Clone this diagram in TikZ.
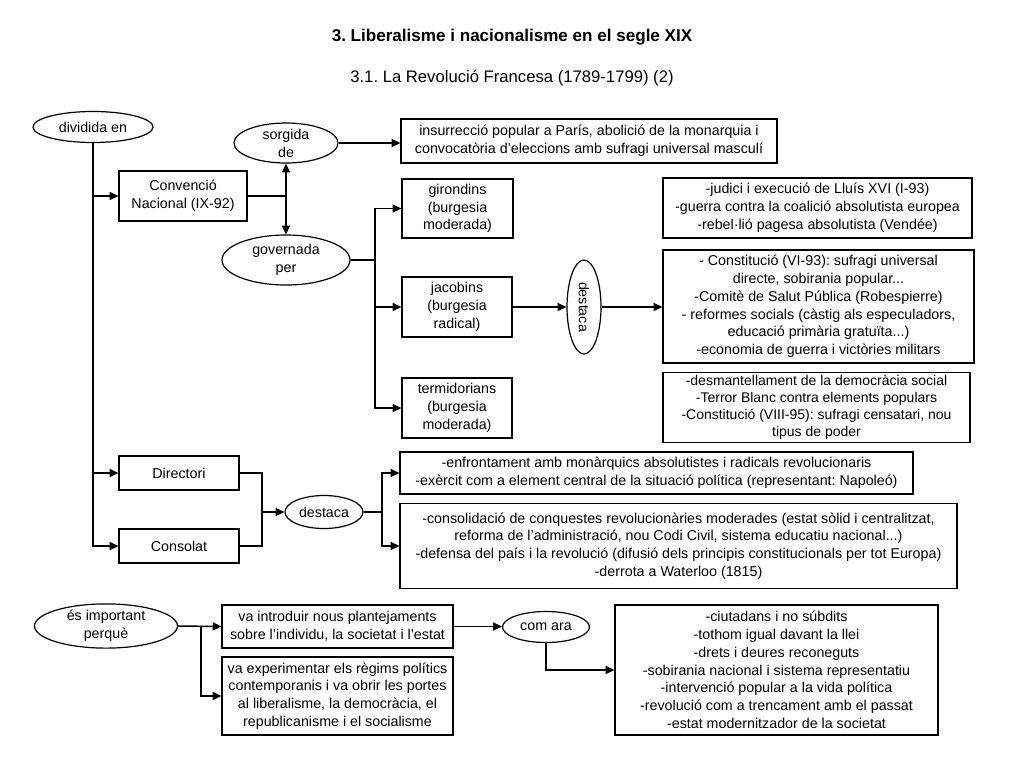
\documentclass[tikz,border=0pt]{standalone}
\usepackage{fontspec}
\setmainfont{Liberation Sans}
\frenchspacing
\usetikzlibrary{shapes.geometric,arrows.meta}
\tikzset{
  wh/.style 2 args={minimum width=#1*0.75pt, minimum height=#2*0.75pt},
  txt/.style={font=\fontsize{10.7}{13.35}\selectfont, align=center, inner sep=0pt},
  tighttxt/.style={font=\fontsize{10.5}{12.8}\selectfont},
  bx/.style={txt, draw, rectangle, line width=0.9pt},
  el/.style={txt, draw, ellipse, line width=0.9pt},
  ln/.style={line width=1.1pt},
  arr/.style={ln, -{Triangle[length=6.5pt,width=6pt]}},
}
\begin{document}
\begin{tikzpicture}[x=0.75pt,y=-0.75pt]
\fill[white] (0,0) rectangle (1024,768);
\useasboundingbox (0,0) rectangle (1024,768);
% titles
\node[font=\fontsize{12.8}{15}\selectfont\bfseries] (t1) at (512,37) {3. Liberalisme i nacionalisme en el segle XIX};
\node[font=\fontsize{12.5}{15}\selectfont] (t2) at (512,78) {3.1. La Revolució Francesa (1789-1799) (2)};
% upper part
\node[el, wh={120}{31}] (div) at (93,127) {dividida en};
\node[bx, wh={128}{50}] (conv) at (183,196) {Convenció\\Nacional (IX-92)};
\node[el, wh={104}{37}] (sorg) at (286,143) {sorgida\\de};
\node[el, wh={128}{50}] (gov) at (286,260) {governada\\per};
\node[bx, wh={376}{44}] (insur) at (589,141) {insurrecció popular a París, abolició de la monarquia i\\convocatòria d'eleccions amb sufragi universal masculí};
\node[bx, wh={111}{59}] (gir) at (457.5,208.5) {girondins\\(burgesia\\moderada)};
\node[bx, wh={110}{60}] (jac) at (457,307) {jacobins\\(burgesia\\radical)};
\node[bx, wh={110}{60}] (ter) at (457,408) {termidorians\\(burgesia\\moderada)};
\node[el, wh={34}{94}] (desv) at (584,307) {\rotatebox{-90}{destaca}};
\node[bx, wh={309}{60}] (jud) at (817.5,208) {-judici i execució de Lluís XVI (I-93)\\-guerra contra la coalició absolutista europea\\-rebel·lió pagesa absolutista (Vendée)};
\node[bx, wh={311}{113}] (const) at (818.5,306.5) {- Constitució (VI-93): sufragi universal\\directe, sobirania popular...\\-Comitè de Salut Pública (Robespierre)\\- reformes socials (càstig als especuladors,\\educació primària gratuïta...)\\-economia de guerra i victòries militars};
\node[bx, tighttxt, wh={307}{70}] (desm) at (816.5,407.5) {-desmantellament de la democràcia social\\-Terror Blanc contra elements populars\\-Constitució (VIII-95): sufragi censatari, nou\\tipus de poder};
\node[bx, wh={120}{34}] (dir) at (179,473) {Directori};
\node[bx, wh={120}{34}] (cons) at (179,546) {Consolat};
\node[el, wh={78}{33}] (desh) at (324,512) {destaca};
\node[bx, wh={513}{42}] (enfr) at (656.5,473) {-enfrontament amb monàrquics absolutistes i radicals revolucionaris\\-exèrcit com a element central de la situació política (representant: Napoleó)};
\node[bx, wh={557}{85}] (consol) at (678.5,546) {-consolidació de conquestes revolucionàries moderades (estat sòlid i centralitzat,\\reforma de l'administració, nou Codi Civil, sistema educatiu nacional...)\\-defensa del país i la revolució (difusió dels principis constitucionals per tot Europa)\\-derrota a Waterloo (1815)};
% lower part
\node[el, wh={143}{32}] (imp) at (106,626) {és important\\perquè};
\node[bx, wh={231}{43}] (intro) at (337.5,626.5) {va introduir nous plantejaments\\sobre l'individu, la societat i l'estat};
\node[bx, wh={231}{78}] (exper) at (337.5,696) {va experimentar els règims polítics\\contemporanis i va obrir les portes\\al liberalisme, la democràcia, el\\republicanisme i el socialisme};
\node[el, wh={87}{31}] (com) at (546,627) {com ara};
\node[bx, wh={323}{130}] (list) at (776.5,670) {-ciutadans i no súbdits\\-tothom igual davant la llei\\-drets i deures reconeguts\\-sobirania nacional i sistema representatiu\\-intervenció popular a la vida política\\-revolució com a trencament amb el passat\\-estat modernitzador de la societat};
% junctions
\coordinate (jc) at (286,196);
\coordinate (jg) at (375,260);
\coordinate (jd) at (262,512);
\coordinate (jn) at (382,512);
\coordinate (ji) at (201,626);
% connectors
\draw[arr] (div.south) |- (conv.west);
\draw[arr] (div.south) |- (dir.west);
\draw[arr] (div.south) |- (cons.west);
\draw[ln] (conv.east) -- (jc);
\draw[arr] (jc) -- (sorg.south);
\draw[arr] (jc) -- (gov.north);
\draw[arr] (sorg.east) -- (sorg.east -| insur.west);
\draw[ln] (gov.east) -- (jg);
\draw[arr] (jg) |- (gir.west);
\draw[arr] (jg) |- (jac.west);
\draw[arr] (jg) |- (ter.west);
\draw[arr] (jac.east) -- (desv.west);
\draw[arr] (desv.east) -- (desv.east -| const.west);
\draw[ln] (dir.east) -| (jd);
\draw[ln] (cons.east) -| (jd);
\draw[arr] (jd) -- (desh.west);
\draw[ln] (desh.east) -- (jn);
\draw[arr] (jn) |- (enfr.west);
\draw[arr] (jn) |- (consol.west);
\draw[arr] (imp.east) -- (intro.west);
\draw[arr] (ji) |- (exper.west);
\draw[arr] (intro.east) -- (intro.east -| com.west);
\draw[arr] (com.south) |- (list.west);
\end{tikzpicture}
\end{document}
